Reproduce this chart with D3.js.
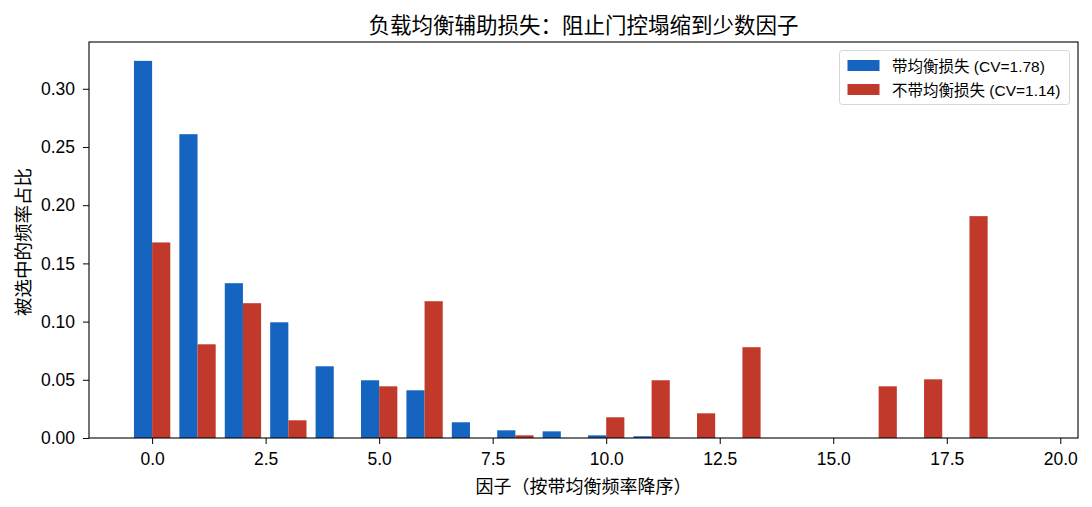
<!DOCTYPE html>
<html><head><meta charset="utf-8">
<script src="https://cdn.jsdelivr.net/npm/d3@7"></script>
<style>
body{margin:0;background:#fff;}
svg{display:block;font-family:"Liberation Sans","Noto Sans CJK SC",sans-serif;}
</style></head><body>
<div id="chart"></div>
<script>
const factors = d3.range(20);
const withBalance = [0.324,0.261,0.133,0.0994,0.0616,0.0496,0.041,0.0135,0.0066,0.0057,0.0023,0.0015,0,0,0,0,0,0,0,0];
const withoutBalance = [0.168,0.0805,0.1158,0.0152,0,0.0444,0.1175,0,0.0023,0,0.0178,0.0496,0.0212,0.078,0,0,0.0444,0.0504,0.1906,0];
const seriesNames = ["带均衡损失 (CV=1.78)","不带均衡损失 (CV=1.14)"];
const colors = ["#1565C0","#C0392B"];
const xTicks = [0,2.5,5,7.5,10,12.5,15,17.5,20];
const yTicks = [0,0.05,0.1,0.15,0.2,0.25,0.3];
const title = "负载均衡辅助损失：阻止门控塌缩到少数因子";
const xLabel = "因子（按带均衡频率降序）";
const yLabel = "被选中的频率占比";

const W=1092,H=507, m={l:89,r:14,t:42,b:69};
const svg=d3.select("#chart").append("svg").attr("width",W).attr("height",H);
const bw=0.4;
const xmin=-bw, xmax=19+bw, pad=(xmax-xmin)*0.05;
const x=d3.scaleLinear().domain([xmin-pad,xmax+pad]).range([m.l,W-m.r]);
const ymax=d3.max(withBalance.concat(withoutBalance))*1.05;
const y=d3.scaleLinear().domain([0,ymax]).range([H-m.b,m.t]);

const g=svg.append("g");
const series=[withBalance,withoutBalance];
series.forEach((vals,si)=>{
  g.selectAll(null).data(factors).enter().append("rect")
    .attr("x",d=>x(d+(si===0?-bw:0)))
    .attr("width",d=>x(d+bw)-x(d))
    .attr("y",d=>y(vals[d]))
    .attr("height",d=>y(0)-y(vals[d]))
    .attr("fill",colors[si]);
});

const xa=svg.append("g").attr("transform",`translate(0,${H-m.b})`)
  .call(d3.axisBottom(x).tickValues(xTicks).tickFormat(d3.format(".1f")).tickSize(6).tickPadding(9));
const ya=svg.append("g").attr("transform",`translate(${m.l},0)`)
  .call(d3.axisLeft(y).tickValues(yTicks).tickFormat(d3.format(".2f")).tickSize(6).tickPadding(8));
[xa,ya].forEach(a=>{a.select(".domain").remove();a.selectAll("text").attr("font-size",17.5).attr("fill","#000").attr("font-family",null);a.selectAll("line").attr("stroke","#000").attr("stroke-width",1);});

svg.append("rect").attr("x",m.l).attr("y",m.t).attr("width",W-m.r-m.l).attr("height",H-m.b-m.t)
  .attr("fill","none").attr("stroke","#000").attr("stroke-width",1.1);

svg.append("text").attr("x",(m.l+W-m.r)/2).attr("y",33).attr("text-anchor","middle")
  .attr("font-size",21.5).text(title);
svg.append("text").attr("x",(m.l+W-m.r)/2).attr("y",492.5).attr("text-anchor","middle")
  .attr("font-size",18).text(xLabel);
svg.append("text").attr("transform",`translate(29.5,242) rotate(-90)`).attr("text-anchor","middle")
  .attr("font-size",18.5).text(yLabel);

const lg=svg.append("g");
lg.append("rect").attr("x",839.5).attr("y",50.5).attr("width",230).attr("height",54).attr("rx",3)
  .attr("fill","#fff").attr("fill-opacity",0.8).attr("stroke","#d6d6d6").attr("stroke-width",1);
seriesNames.forEach((n,i)=>{
  lg.append("rect").attr("x",847.5).attr("y",60+i*24).attr("width",32).attr("height",11).attr("fill",colors[i]);
  lg.append("text").attr("x",892).attr("y",66+i*24).attr("dy","0.36em").attr("font-size",15.5).text(n);
});
</script></body></html>
